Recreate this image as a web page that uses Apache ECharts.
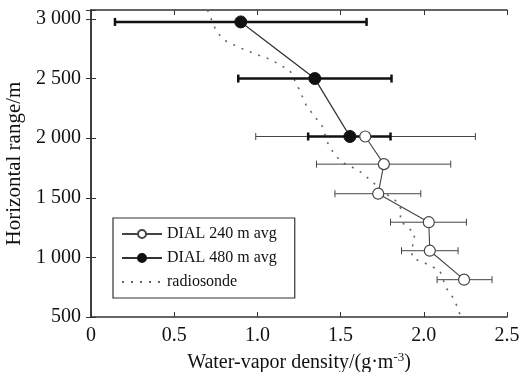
<!DOCTYPE html>
<html><head><meta charset="utf-8">
<script src="https://cdn.jsdelivr.net/npm/echarts@6/dist/echarts.min.js"></script>
<style>html,body{margin:0;padding:0;background:#fff}#c{width:521px;height:372px}</style>
</head><body><div id="c"></div>
<script>
// DIAL 240 m average
const range240 = [2014, 1782, 1534, 1295, 1056, 813];
const dens240 = [1.648, 1.760, 1.726, 2.030, 2.036, 2.242];
const err240Low = [0.99, 1.355, 1.466, 1.80, 1.866, 2.08];
const err240High = [2.31, 2.162, 1.982, 2.256, 2.206, 2.41];
// DIAL 480 m average
const range480 = [2975, 2500, 2014];
const dens480 = [0.90, 1.345, 1.556];
const err480Low = [0.144, 0.885, 1.305];
const err480High = [1.656, 1.806, 1.80];
// radiosonde
const rangeSonde = [3075, 2890, 2810, 2740, 2656, 2566, 2410, 2270, 2103, 1950, 1880, 1800, 1760, 1720, 1656, 1530, 1470, 1400, 1310, 1260, 1200, 1045, 990, 960, 890, 740, 670, 590, 510];
const densSonde = [0.70, 0.755, 0.815, 0.925, 1.085, 1.195, 1.251, 1.295, 1.389, 1.425, 1.456, 1.505, 1.566, 1.616, 1.672, 1.776, 1.836, 1.866, 1.856, 1.896, 1.946, 1.926, 1.936, 1.996, 2.096, 2.136, 2.172, 2.20, 2.22];
const xTicks = [0, 0.5, 1.0, 1.5, 2.0, 2.5];
const xTickLabels = ['0', '0.5', '1.0', '1.5', '2.0', '2.5'];
const yTickLabels = ['500', '1 000', '1 500', '2 000', '2 500', '3 000'];

const FONT = 'Liberation Serif';
const chart = echarts.init(document.getElementById('c'));

function errItem(ys, lo, hi) { return ys.map((y, i) => [y, lo[i], hi[i]]); }
function errRender(width, color, cap) {
  return function (params, api) {
    const y = api.value(0), lo = api.value(1), hi = api.value(2);
    const a = api.coord([lo, y]), b = api.coord([hi, y]);
    const st = { stroke: color, lineWidth: width };
    return { type: 'group', children: [
      { type: 'line', shape: { x1: a[0], y1: a[1], x2: b[0], y2: b[1] }, style: st },
      { type: 'line', shape: { x1: a[0], y1: a[1] - cap, x2: a[0], y2: a[1] + cap }, style: st },
      { type: 'line', shape: { x1: b[0], y1: b[1] - cap, x2: b[0], y2: b[1] + cap }, style: st }
    ]};
  };
}

const axLine = { show: true, lineStyle: { color: '#333', width: 1.5 } };
const tick = { show: true, inside: true, length: 5, lineStyle: { color: '#333', width: 1 } };

chart.setOption({
  animation: false,
  grid: { left: 91, right: 14, top: 10, bottom: 55, containLabel: false, outerBoundsMode: 'none' },
  xAxis: [
    { type: 'value', min: 0, max: 2.5, interval: 0.5, position: 'bottom',
      axisLine: axLine, axisTick: tick, splitLine: { show: false },
      axisLabel: { color: '#111', fontFamily: FONT, fontSize: 20, margin: 9,
        formatter: v => { const i = xTicks.findIndex(t => Math.abs(t - v) < 1e-9); return i >= 0 ? xTickLabels[i] : ''; } },
      name: 'Water-vapor density/(g·m{sup|-3})', nameLocation: 'middle', nameGap: 32,
      nameTextStyle: { color: '#111', fontFamily: FONT, fontSize: 20,
        rich: { sup: { fontFamily: FONT, fontSize: 13, color: '#111', verticalAlign: 'top', padding: [0, 0, 11, 0] } } } },
    { type: 'value', min: 0, max: 2.5, interval: 0.5, position: 'top',
      axisLine: axLine, axisTick: tick, axisLabel: { show: false }, splitLine: { show: false } }
  ],
  yAxis: [
    { type: 'value', min: 500, max: 3075, interval: 500, position: 'left',
      axisLine: axLine, axisTick: tick, splitLine: { show: false },
      axisLabel: { color: '#111', fontFamily: FONT, fontSize: 20, margin: 10,
        formatter: v => { const i = Math.round((v - 500) / 500); return (Math.abs(v - 500 - i * 500) < 1e-6 && i <= 5) ? yTickLabels[i] : ''; } },
      name: 'Horizontal range/m', nameLocation: 'middle', nameGap: 58,
      nameTextStyle: { color: '#111', fontFamily: FONT, fontSize: 21 } },
    { type: 'value', min: 500, max: 3075, interval: 500, position: 'right',
      axisLine: axLine, axisTick: tick, axisLabel: { show: false }, splitLine: { show: false } }
  ],
  legend: {
    orient: 'vertical', left: 113, top: 218,
    backgroundColor: '#fff', borderColor: '#333', borderWidth: 1.2,
    padding: [8, 18, 8, 8], itemGap: 8, itemWidth: 40, itemHeight: 10,
    textStyle: { color: '#111', fontFamily: FONT, fontSize: 16 },
    data: ['DIAL 240 m avg', 'DIAL 480 m avg', { name: 'radiosonde', itemStyle: { opacity: 0 } }]
  },
  series: [
    { name: 'radiosonde', type: 'line', showSymbol: false, symbol: 'none',
      data: rangeSonde.map((r, i) => [densSonde[i], r]),
      lineStyle: { color: '#666', width: 1.6, type: [2, 7] }, itemStyle: { color: '#666' }, z: 1 },
    { name: 'err240', type: 'custom', renderItem: errRender(1, '#444', 3.5),
      data: errItem(range240, err240Low, err240High), encode: { x: [1, 2], y: 0 }, z: 2 },
    { name: 'err480', type: 'custom', renderItem: errRender(2.5, '#111', 4),
      data: errItem(range480, err480Low, err480High), encode: { x: [1, 2], y: 0 }, z: 3 },
    { name: 'DIAL 480 m avg', type: 'line', symbol: 'circle', symbolSize: 12,
      data: range480.map((r, i) => [dens480[i], r]),
      lineStyle: { color: '#333', width: 1.3 }, itemStyle: { color: '#111', borderColor: '#111', borderWidth: 1 }, z: 5 },
    { name: 'DIAL 240 m avg', type: 'line', symbol: 'circle', symbolSize: 11,
      data: range240.map((r, i) => [dens240[i], r]),
      lineStyle: { color: '#444', width: 1.1 }, itemStyle: { color: '#fff', borderColor: '#444', borderWidth: 1.2 }, z: 4 }
  ]
});
</script></body></html>
